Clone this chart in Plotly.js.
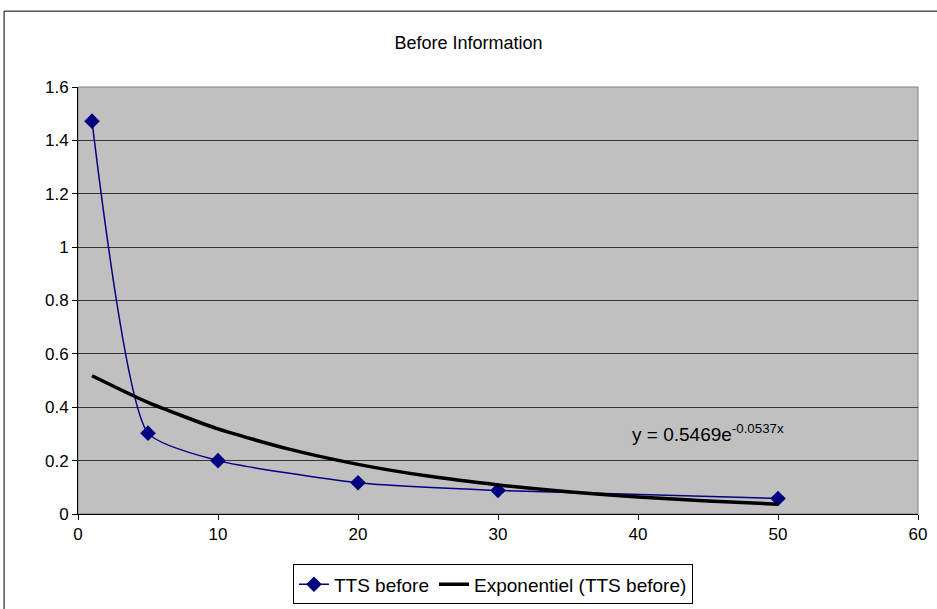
<!DOCTYPE html>
<html>
<head>
<meta charset="utf-8">
<script src="https://cdn.plot.ly/plotly-3.0.1.min.js"></script>
<style>html,body{margin:0;padding:0;background:#fff;}#chart{width:937px;height:609px;}</style>
</head>
<body>
<div id="chart"></div>
<script>
// Observed series
const ttsX = [1, 5, 10, 20, 30, 50];
const ttsY = [1.472, 0.303, 0.200, 0.117, 0.088, 0.058];

// Exponential trendline
const trendX = [1, 5, 10, 15, 20, 25, 30, 35, 40, 45, 50];
const trendY = [0.518, 0.418, 0.319, 0.244, 0.186, 0.142, 0.109, 0.083, 0.064, 0.049, 0.037];

const xTicks = [0, 10, 20, 30, 40, 50, 60];
const yTicks = [0, 0.2, 0.4, 0.6, 0.8, 1, 1.2, 1.4, 1.6];
const yTickLabels = ["0", "0.2", "0.4", "0.6", "0.8", "1", "1.2", "1.4", "1.6"];

const seriesNames = ["TTS before", "Exponentiel (TTS before)"];
const titleText = "Before Information";
const equationText = "y = 0.5469e<sup>-0.0537x</sup>";

const font = "Liberation Sans, Arial, sans-serif";

const traces = [
  {
    x: ttsX, y: ttsY, name: seriesNames[0], type: "scatter", mode: "lines+markers",
    line: {color: "#000080", width: 1.5, shape: "spline", smoothing: 0.55},
    marker: {symbol: "diamond", size: 12, color: "#000080"}
  },
  {
    x: trendX, y: trendY, name: seriesNames[1], type: "scatter", mode: "lines",
    line: {color: "#000000", width: 3.5, shape: "spline", smoothing: 0.6}
  }
];

const layout = {
  width: 937, height: 609,
  margin: {l: 78, r: 19, t: 87, b: 95, autoexpand: false},
  paper_bgcolor: "#ffffff",
  plot_bgcolor: "#c0c0c0",
  font: {family: font, size: 17, color: "#000"},
  title: {text: titleText, font: {family: font, size: 18, color: "#000"}, x: 0.5, xanchor: "center", y: 0.93, yanchor: "middle"},
  xaxis: {
    range: [0, 60], tickvals: xTicks, ticktext: xTicks.map(String),
    showgrid: false, zeroline: false, showline: true, linecolor: "#000", linewidth: 1,
    ticks: "outside", ticklen: 5, tickcolor: "#000", tickfont: {family: font, size: 17}, fixedrange: true
  },
  yaxis: {
    range: [0, 1.6], tickvals: yTicks, ticktext: yTickLabels,
    showgrid: true, gridcolor: "#333333", gridwidth: 1, zeroline: false,
    showline: true, linecolor: "#000", linewidth: 1,
    ticks: "outside", ticklen: 5, tickcolor: "#000", tickfont: {family: font, size: 17}, fixedrange: true
  },
  showlegend: true,
  legend: {
    orientation: "h", x: 0.494, xanchor: "center", y: -0.118, yanchor: "top",
    bordercolor: "#000", borderwidth: 1, bgcolor: "#fff",
    font: {family: font, size: 19, color: "#000"}
  },
  annotations: [
    {text: equationText, x: 45.0, y: 0.304, xref: "x", yref: "y", showarrow: false,
     font: {family: font, size: 19, color: "#000"}}
  ],
  shapes: [
    {type: "rect", xref: "paper", yref: "paper", x0: 0, x1: 1, y0: 0, y1: 1,
     line: {color: "#808080", width: 1}, layer: "below"},
    {type: "rect", xref: "paper", yref: "paper", x0: -0.088, x1: 1.2, y0: -0.5, y1: 1.1776,
     line: {color: "#000", width: 1}, fillcolor: "rgba(0,0,0,0)"}
  ]
};

Plotly.newPlot("chart", traces, layout, {displayModeBar: false, staticPlot: true});
</script>
</body>
</html>
